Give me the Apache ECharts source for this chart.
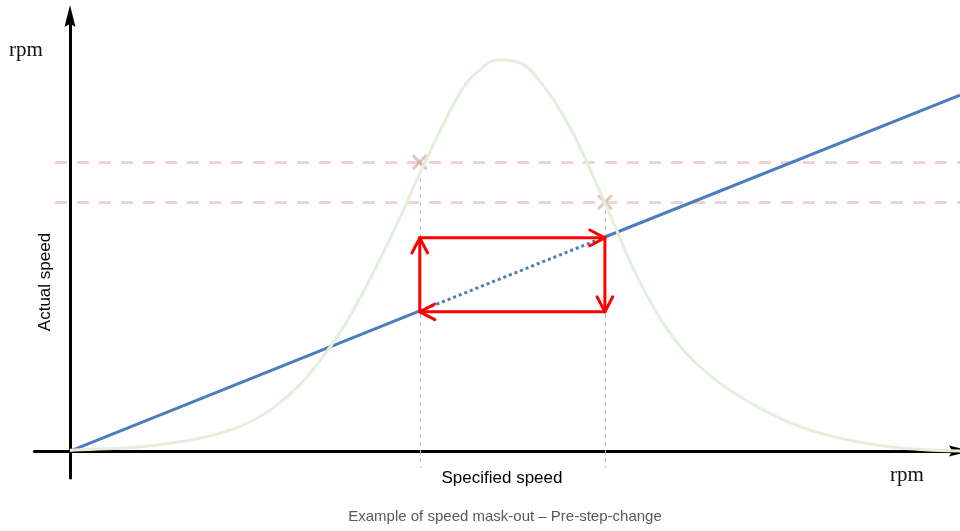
<!DOCTYPE html>
<html>
<head>
<meta charset="utf-8">
<script src="https://cdn.jsdelivr.net/npm/echarts@6/dist/echarts.min.js"></script>
<style>
  html, body { margin: 0; padding: 0; background: #fff; }
  #main { width: 960px; height: 531px; }
</style>
</head>
<body>
<div id="main"></div>
<script>
// speed distribution (light green bell)
var bellX = [0, 4, 8, 12, 16, 20, 24, 28, 32, 36, 40, 44, 46, 48, 50, 52, 56,
             60, 64, 68, 72, 76, 80, 84, 88, 92, 96, 100];
var bellY = [0.2, 0.5, 1.0, 2.0, 3.6, 6.5, 11.8, 20.5, 33.0, 49.0, 66.8, 83.0, 87.6, 89.9, 89.6, 87.0, 75.0,
             57.5, 39.0, 25.5, 17.2, 11.6, 7.3, 4.3, 2.3, 1.0, 0.3, 0];

// actual = specified (blue line), broken into solid / dotted / solid
var speedLine = [[0, 0], [39.3, 32.2], [60.1, 49.2], [100, 81.8]];

// mask-out band edges
var maskX = [39.3, 60.1];
var maskLevels = [66.4, 57.2];
var stepY = [32.0, 49.0];

var chartDom = document.getElementById('main');
var myChart = echarts.init(chartDom);

var bellData = bellX.map(function (x, i) { return [x, bellY[i]]; });

var redSteps = [
    [maskX[0], stepY[0], maskX[0], stepY[1]],
    [maskX[0], stepY[1], maskX[1], stepY[1]],
    [maskX[1], stepY[1], maskX[1], stepY[0]],
    [maskX[1], stepY[0], maskX[0], stepY[0]]
];

var arrowHead = 'path://M5,0L10,20L5,17L0,20Z';

var option = {
    animation: false,
    backgroundColor: '#fff',
    grid: { left: 34.4, right: 0, top: 16, bottom: 53 },
    xAxis: {
        type: 'value',
        min: -4,
        max: 100,
        axisLine: {
            onZero: true,
            symbol: ['none', arrowHead],
            symbolSize: [13, 22],
            lineStyle: { color: '#000', width: 3 }
        },
        axisTick: { show: false },
        axisLabel: { show: false },
        splitLine: { show: false }
    },
    yAxis: {
        type: 'value',
        min: -6.2,
        max: 100,
        axisLine: {
            onZero: true,
            symbol: ['none', arrowHead],
            symbolSize: [13, 22],
            lineStyle: { color: '#000', width: 3 }
        },
        axisTick: { show: false },
        axisLabel: { show: false },
        splitLine: { show: false }
    },
    graphic: [
        { type: 'text', left: 9, top: 40, style: { text: 'rpm', font: '21px "Liberation Serif"', fill: '#111' } },
        { type: 'text', left: 890, top: 465, style: { text: 'rpm', font: '21px "Liberation Serif"', fill: '#111' } },
        { type: 'text', x: 45, y: 282, rotation: Math.PI / 2,
          style: { text: 'Actual speed', font: '17px "Liberation Sans"', fill: '#000', align: 'center', verticalAlign: 'middle' } },
        { type: 'text', x: 502, y: 478,
          style: { text: 'Specified speed', font: '17px "Liberation Sans"', fill: '#000', align: 'center', verticalAlign: 'middle' } },
        { type: 'text', x: 505, y: 517,
          style: { text: 'Example of speed mask-out \u2013 Pre-step-change', font: '15px "Liberation Sans"', fill: '#595959', align: 'center', verticalAlign: 'middle' } }
    ],
    series: [
        {
            type: 'line',
            data: bellData,
            smooth: 0.4,
            showSymbol: false,
            silent: true,
            lineStyle: { color: '#e2efda', width: 3 }
        },
        {
            type: 'lines',
            coordinateSystem: 'cartesian2d',
            silent: true,
            lineStyle: { color: '#efd3d3', width: 3, type: [12, 10], opacity: 1 },
            data: maskLevels.map(function (y) { return { coords: [[-1.7, y], [100, y]] }; })
        },
        {
            type: 'lines',
            coordinateSystem: 'cartesian2d',
            silent: true,
            lineStyle: { color: '#bdbdbd', width: 1, type: [4, 4], opacity: 1 },
            data: maskX.map(function (x, i) { return { coords: [[x, maskLevels[i]], [x, -3.9]] }; })
        },
        {
            type: 'lines',
            coordinateSystem: 'cartesian2d',
            silent: true,
            lineStyle: { color: '#4a7ebb', width: 3, opacity: 1 },
            data: [
                { coords: [speedLine[0], speedLine[1]] },
                { coords: [speedLine[1], speedLine[2]], lineStyle: { type: [3, 3] } },
                { coords: [speedLine[2], speedLine[3]] }
            ]
        },
        {
            // cross markers where the band meets the bell
            type: 'custom',
            silent: true,
            data: maskX.map(function (x, i) { return [x, maskLevels[i]]; }),
            renderItem: function (params, api) {
                var p = api.coord([api.value(0), api.value(1)]);
                var s = 7;
                var st = { stroke: 'rgba(214,160,150,0.6)', lineWidth: 3 };
                return {
                    type: 'group',
                    children: [
                        { type: 'line', shape: { x1: p[0] - s, y1: p[1] - s, x2: p[0] + s, y2: p[1] + s }, style: st },
                        { type: 'line', shape: { x1: p[0] - s, y1: p[1] + s, x2: p[0] + s, y2: p[1] - s }, style: st }
                    ]
                };
            }
        },
        {
            // red step arrows around the masked band
            type: 'custom',
            silent: true,
            data: redSteps,
            renderItem: function (params, api) {
                var a = api.coord([api.value(0), api.value(1)]);
                var b = api.coord([api.value(2), api.value(3)]);
                var ang = Math.atan2(b[1] - a[1], b[0] - a[0]);
                var len = 17, spread = 0.48;
                var st = { stroke: '#ff0000', lineWidth: 3, lineCap: 'round', lineJoin: 'round', fill: null };
                return {
                    type: 'group',
                    children: [
                        { type: 'line', shape: { x1: a[0], y1: a[1], x2: b[0], y2: b[1] }, style: st },
                        {
                            type: 'polyline',
                            shape: {
                                points: [
                                    [b[0] - len * Math.cos(ang - spread), b[1] - len * Math.sin(ang - spread)],
                                    [b[0], b[1]],
                                    [b[0] - len * Math.cos(ang + spread), b[1] - len * Math.sin(ang + spread)]
                                ]
                            },
                            style: st
                        }
                    ]
                };
            }
        }
    ]
};

myChart.setOption(option);
</script>
</body>
</html>
